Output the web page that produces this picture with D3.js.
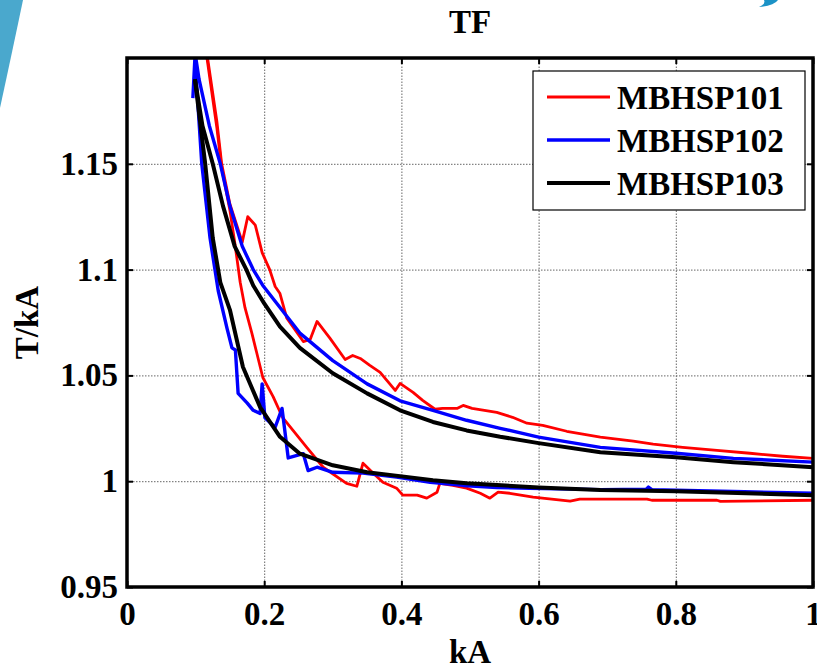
<!DOCTYPE html>
<html>
<head>
<meta charset="utf-8">
<script src="https://cdn.jsdelivr.net/npm/d3@7"></script>
<style>
  body { margin: 0; background: #fff; }
  svg text { font-family: "Liberation Serif", "Times New Roman", serif; font-weight: bold; }
</style>
</head>
<body>
<div id="chart"></div>
<script>
// tick values
const xTicks = [0, 0.2, 0.4, 0.6, 0.8, 1];
const yTicks = [0.95, 1, 1.05, 1.1, 1.15];

// series names
const seriesNames = ['MBHSP101', 'MBHSP102', 'MBHSP103'];

// MBHSP101 (red) - upper and lower branches, [kA, T/kA]
const red101Upper = [[0.1,1.236],[0.117,1.201],[0.131,1.17],[0.138,1.15],[0.150,1.131],[0.168,1.113],[0.176,1.125],
  [0.187,1.121],[0.197,1.108],[0.208,1.1],[0.216,1.092],[0.223,1.0887],[0.233,1.077],[0.257,1.066],[0.267,1.067],
  [0.277,1.0755],[0.296,1.0675],[0.318,1.0575],[0.329,1.0594],[0.34,1.058],[0.354,1.0547],[0.369,1.0514],
  [0.391,1.0429],[0.398,1.0462],[0.417,1.042],[0.431,1.0382],[0.449,1.034],[0.46,1.0344],[0.481,1.0344],
  [0.49,1.0358],[0.503,1.0344],[0.539,1.0325],[0.562,1.0302],[0.583,1.0274],[0.606,1.0264],[0.641,1.0236],
  [0.69,1.0208],[0.738,1.0189],[0.767,1.0175],[0.81,1.016],[0.86,1.0146],[0.908,1.0132],[0.956,1.0118],[1.0,1.0108]];
const red101Lower = [[0.1,1.232],[0.117,1.199],[0.131,1.167],[0.138,1.148],[0.150,1.128],[0.157,1.113],[0.165,1.094],
  [0.172,1.082],[0.182,1.07],[0.198,1.049],[0.213,1.04],[0.227,1.03],[0.242,1.024],[0.262,1.016],[0.286,1.0066],
  [0.32,0.999],[0.335,0.9976],[0.344,1.0085],[0.359,1.0038],[0.373,0.9995],[0.393,0.9967],[0.402,0.9934],
  [0.423,0.9934],[0.437,0.992],[0.452,0.9948],[0.456,0.999],[0.475,0.998],[0.495,0.9967],[0.515,0.9943],
  [0.529,0.992],[0.541,0.9948],[0.558,0.9943],[0.592,0.9925],[0.646,0.9906],[0.66,0.9915],[0.758,0.9915],
  [0.765,0.991],[0.86,0.991],[0.865,0.9905],[1.0,0.991]];

// MBHSP102 (blue)
const blue102Upper = [[0.098,1.205],[0.105,1.19],[0.12,1.168],[0.136,1.15],[0.150,1.130],[0.168,1.111],[0.184,1.1],
  [0.198,1.0925],[0.204,1.09],[0.252,1.07],[0.3,1.057],[0.35,1.046],[0.398,1.038],[0.446,1.0335],[0.495,1.0288],
  [0.544,1.025],[0.6,1.0208],[0.69,1.016],[0.8,1.0132],[0.884,1.0108],[1.0,1.009]];
const blue102Lower = [[0.096,1.181],[0.099,1.2],[0.109,1.15],[0.121,1.115],[0.133,1.09],[0.146,1.072],[0.153,1.063],
  [0.158,1.062],[0.162,1.0415],[0.175,1.037],[0.184,1.0335],[0.194,1.032],[0.197,1.046],[0.201,1.030],
  [0.216,1.0255],[0.226,1.0344],[0.235,1.011],[0.257,1.013],[0.264,1.005],[0.277,1.0066],[0.3,1.0042],
  [0.344,1.0038],[0.393,1.0019],[0.442,0.9995],[0.49,0.998],[0.539,0.997],[0.587,0.9967],[0.69,0.996],
  [0.757,0.9962],[0.76,0.9972],[0.765,0.996],[0.8,0.9958],[0.9,0.995],[1.0,0.9943]];

// MBHSP103 (black)
const black103Upper = [[0.099,1.19],[0.11,1.168],[0.125,1.15],[0.140,1.130],[0.157,1.111],[0.174,1.1],[0.184,1.0925],
  [0.2,1.084],[0.223,1.073],[0.252,1.063],[0.3,1.051],[0.35,1.0415],[0.398,1.0335],[0.446,1.028],[0.495,1.024],
  [0.544,1.021],[0.6,1.018],[0.69,1.0137],[0.8,1.0113],[0.884,1.009],[1.0,1.0066]];
const black103Lower = [[0.099,1.19],[0.114,1.15],[0.125,1.115],[0.136,1.094],[0.15,1.081],[0.169,1.054],[0.194,1.035],
  [0.223,1.021],[0.252,1.013],[0.3,1.0075],[0.35,1.0042],[0.398,1.0024],[0.446,1.0005],[0.495,0.999],[0.6,0.997],
  [0.69,0.9958],[0.8,0.9952],[1.0,0.9934]];

const series = [
  { name: seriesNames[0], color: '#ff0000', width: 2.8, curves: [red101Upper, red101Lower] },
  { name: seriesNames[1], color: '#0000ff', width: 3.4, curves: [blue102Upper, blue102Lower] },
  { name: seriesNames[2], color: '#000000', width: 4, curves: [black103Upper, black103Lower] }
];

const W = 817, H = 668;
const box = { left: 127, right: 813, top: 58, bottom: 587 };

const svg = d3.select('#chart').append('svg')
  .attr('width', W).attr('height', H);

// slide decoration in the corners
svg.append('path').attr('d', 'M0,0 L23,0 Q13,48 0,108 Z').attr('fill', '#4aa8cd');
svg.append('path').attr('d', 'M764,0 L778,0 Q774,6 759,7 Q766,4 764,0 Z').attr('fill', '#1b92c6');

const x = d3.scaleLinear().domain([0, 1]).range([box.left, box.right]);
const y = d3.scaleLinear().domain([0.95, 1.2]).range([box.bottom, box.top]);

// grid
svg.append('g')
  .attr('transform', `translate(0,${box.bottom})`)
  .call(d3.axisBottom(x).tickValues(xTicks.slice(1, -1)).tickSize(-(box.bottom - box.top)).tickFormat(''))
  .call(g => g.select('.domain').remove())
  .selectAll('line').attr('stroke', '#666').attr('stroke-dasharray', '1.5,1.5');
svg.append('g')
  .attr('transform', `translate(${box.left},0)`)
  .call(d3.axisLeft(y).tickValues(yTicks.slice(1)).tickSize(-(box.right - box.left)).tickFormat(''))
  .call(g => g.select('.domain').remove())
  .selectAll('line').attr('stroke', '#666').attr('stroke-dasharray', '1.5,1.5');

// clip curves to the plot box
svg.append('clipPath').attr('id', 'plot-clip')
  .append('rect').attr('x', box.left).attr('y', box.top)
  .attr('width', box.right - box.left).attr('height', box.bottom - box.top);

const line = d3.line().x(d => x(d[0])).y(d => y(d[1]));

const plot = svg.append('g').attr('clip-path', 'url(#plot-clip)');
series.forEach(s => {
  s.curves.forEach(c => {
    plot.append('path')
      .datum(c)
      .attr('d', line)
      .attr('fill', 'none')
      .attr('stroke', s.color)
      .attr('stroke-width', s.width)
      .attr('stroke-linejoin', 'round');
  });
});

// axes with inward ticks
const fmt = d => String(d);
const xAxis = svg.append('g')
  .attr('transform', `translate(0,${box.bottom})`)
  .call(d3.axisBottom(x).tickValues(xTicks).tickSize(-6).tickFormat(fmt));
xAxis.selectAll('text').attr('y', 38).attr('dy', null)
  .style('font-size', '33px').attr('fill', '#000');

const yAxis = svg.append('g')
  .attr('transform', `translate(${box.left},0)`)
  .call(d3.axisLeft(y).tickValues(yTicks).tickSize(-6).tickPadding(9).tickFormat(fmt));
yAxis.selectAll('text').style('font-size', '33px').attr('fill', '#000');

// top and right ticks
svg.append('g')
  .attr('transform', `translate(0,${box.top})`)
  .call(d3.axisTop(x).tickValues(xTicks).tickSize(-6).tickFormat(''));
svg.append('g')
  .attr('transform', `translate(${box.right},0)`)
  .call(d3.axisRight(y).tickValues(yTicks).tickSize(-6).tickFormat(''));

svg.selectAll('.domain').remove();
svg.selectAll('.tick line').filter(function () { return !this.getAttribute('stroke-dasharray'); })
  .attr('stroke', '#000').attr('stroke-width', 2);

// frame
svg.append('rect')
  .attr('x', box.left).attr('y', box.top)
  .attr('width', box.right - box.left).attr('height', box.bottom - box.top)
  .attr('fill', 'none').attr('stroke', '#000').attr('stroke-width', 3.5);

// title and axis labels
svg.append('text').attr('x', (box.left + box.right) / 2).attr('y', 33)
  .attr('text-anchor', 'middle').style('font-size', '33px').text('TF');
svg.append('text').attr('x', (box.left + box.right) / 2).attr('y', 663)
  .attr('text-anchor', 'middle').style('font-size', '33px').text('kA');
svg.append('text')
  .attr('transform', `translate(38,${(box.top + box.bottom) / 2}) rotate(-90)`)
  .attr('text-anchor', 'middle').style('font-size', '33px').text('T/kA');

// legend
const legend = svg.append('g');
legend.append('rect')
  .attr('x', 533).attr('y', 71).attr('width', 272).attr('height', 139)
  .attr('fill', '#fff').attr('stroke', '#000').attr('stroke-width', 1.2);
series.forEach((s, i) => {
  const ly = 97 + i * 43;
  legend.append('line')
    .attr('x1', 547).attr('x2', 610).attr('y1', ly).attr('y2', ly)
    .attr('stroke', s.color).attr('stroke-width', s.width);
  legend.append('text')
    .attr('x', 617).attr('y', ly + 12)
    .style('font-size', '33px').text(s.name);
});
</script>
</body>
</html>
